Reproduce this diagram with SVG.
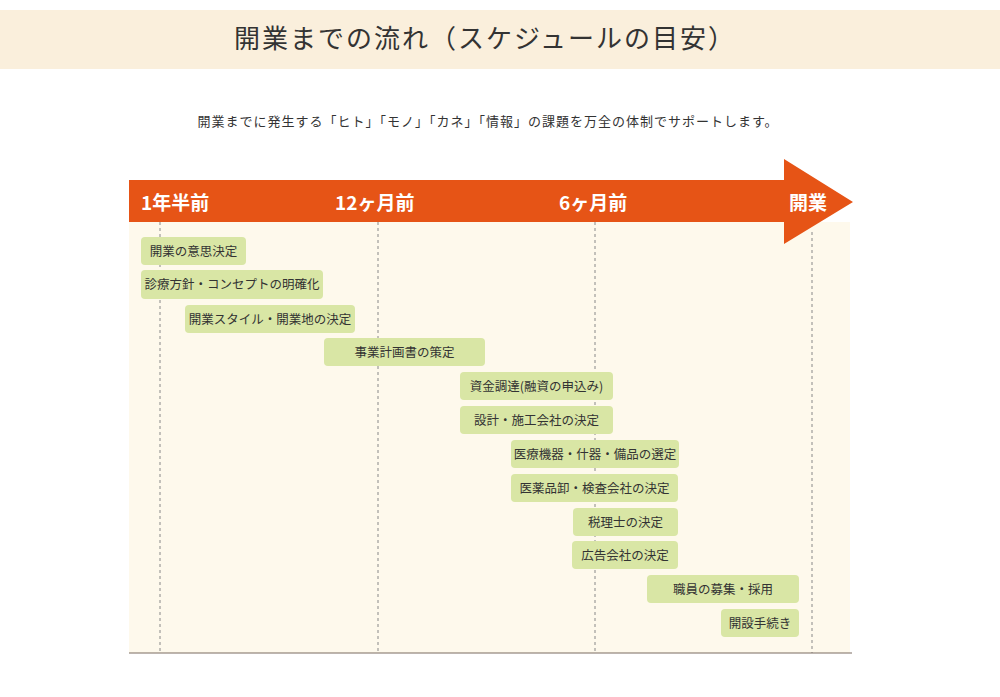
<svg xmlns="http://www.w3.org/2000/svg" width="1000" height="697" viewBox="0 0 1000 697">
<style>
text{font-family:"Noto Sans CJK JP","Noto Sans",sans-serif;fill:#333}
.b rect{fill:#d9e6a5}
.b text{font-size:12.5px;text-anchor:middle}
.t{fill:#fff;font-weight:bold;font-size:19px}
.d{stroke:#888;stroke-width:1;stroke-dasharray:3,3}
</style>
<rect x="0" y="0" width="1000" height="697" fill="#fff"/>
<rect x="0" y="10" width="1000" height="59" fill="#faefdc"/>
<text x="485" y="48" font-size="26" text-anchor="middle" letter-spacing="2" fill="#444">開業までの流れ（スケジュールの目安）</text>
<text x="488" y="126" font-size="13" text-anchor="middle" letter-spacing="1">開業までに発生する「ヒト」「モノ」「カネ」「情報」の課題を万全の体制でサポートします。</text>
<rect x="129" y="222" width="721" height="431" fill="#fef9ec"/>
<g id="connectors">
<line class="d" x1="160" y1="222" x2="160" y2="653"/>
<line class="d" x1="378" y1="222" x2="378" y2="653"/>
<line class="d" x1="595" y1="222" x2="595" y2="653"/>
<line class="d" x1="812" y1="232" x2="812" y2="653"/>
<line x1="129" y1="653" x2="852" y2="653" stroke="#7a6a60" stroke-width="1"/>
</g>
<g id="arrow">
<polygon points="129,180 784,180 784,159 853,202 784,244 784,222 129,222" fill="#e65416"/>
<text class="t" x="141" y="210">1年半前</text>
<text class="t" x="335" y="210">12ヶ月前</text>
<text class="t" x="559" y="210">6ヶ月前</text>
<text class="t" x="789" y="210">開業</text>
</g>
<g id="n1" class="b"><rect x="141" y="237" width="105" height="28" rx="4"/><text x="193.5" y="256">開業の意思決定</text></g>
<g id="n2" class="b"><rect x="141" y="270" width="182" height="29" rx="4"/><text x="232" y="289">診療方針・コンセプトの明確化</text></g>
<g id="n3" class="b"><rect x="185" y="305" width="170" height="28" rx="4"/><text x="270" y="324">開業スタイル・開業地の決定</text></g>
<g id="n4" class="b"><rect x="324" y="338" width="161" height="28" rx="4"/><text x="404.5" y="357">事業計画書の策定</text></g>
<g id="n5" class="b"><rect x="460" y="372" width="153" height="28" rx="4"/><text x="536.5" y="391">資金調達(融資の申込み)</text></g>
<g id="n6" class="b"><rect x="460" y="406" width="153" height="28" rx="4"/><text x="536.5" y="425">設計・施工会社の決定</text></g>
<g id="n7" class="b"><rect x="511" y="440" width="168" height="28" rx="4"/><text x="595" y="459">医療機器・什器・備品の選定</text></g>
<g id="n8" class="b"><rect x="511" y="474" width="167" height="28" rx="4"/><text x="594.5" y="493">医薬品卸・検査会社の決定</text></g>
<g id="n9" class="b"><rect x="573" y="508" width="105" height="28" rx="4"/><text x="625.5" y="527">税理士の決定</text></g>
<g id="n10" class="b"><rect x="572" y="541" width="106" height="28" rx="4"/><text x="625" y="560">広告会社の決定</text></g>
<g id="n11" class="b"><rect x="647" y="575" width="152" height="28" rx="4"/><text x="723" y="594">職員の募集・採用</text></g>
<g id="n12" class="b"><rect x="721" y="609" width="78" height="28" rx="4"/><text x="760" y="628">開設手続き</text></g>
</svg>
